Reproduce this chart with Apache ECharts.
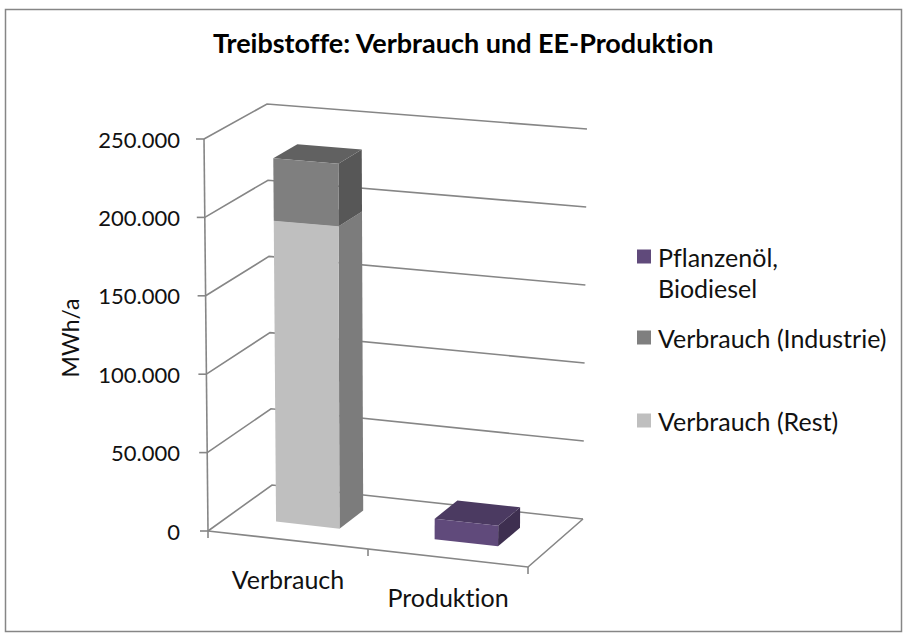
<!DOCTYPE html>
<html><head><meta charset="utf-8">
<script src="https://cdn.jsdelivr.net/npm/echarts/dist/echarts.min.js"></script>
<style>html,body{margin:0;padding:0;background:#fff}#c{width:906px;height:635px}
#c text{font-variant-ligatures:none;font-feature-settings:"liga" 0,"clig" 0;}</style>
</head><body><div id="c"></div>
<script>
// ---- data ----
const categories = ['Verbrauch', 'Produktion'];
const verbrauchRest = [193000, 0];
const verbrauchIndustrie = [40000, 0];
const pflanzenoel = [0, 13000];
const yTicks = [0, 50000, 100000, 150000, 200000, 250000];
const seriesNames = ['Pflanzenöl, Biodiesel', 'Verbrauch (Industrie)', 'Verbrauch (Rest)'];

// ---- layout / style ----
const FONT = 'Lato';
const TXT = '#111';
const FRONT = {lb:[208,531], rb:[528,567], lt:[204,139], rt:[533,166]};
const BACK  = {lb:[272,485], rb:[583,519], lt:[267,104], rt:[587,129]};
const W0 = 0.32, W1 = 0.71, BAR_FRAC = 0.4;
const LINE = {stroke:'#868686', lineWidth:1.6};
const FACE = {
  rest: {front:'#BFBFBF', side:'#7C7C7C', top:'#A6A6A6'},
  ind:  {front:'#7F7F7F', side:'#575757', top:'#616161'},
  pfl:  {front:'#604A7B', side:'#3E2F50', top:'#4B3A61'}
};

function bil(Q,u,v){
  return [0,1].map(k => (1-u)*(1-v)*Q.lb[k] + u*(1-v)*Q.rb[k] + (1-u)*v*Q.lt[k] + u*v*Q.rt[k]);
}
function proj(u,v,w){
  const f = bil(FRONT,u,v), b = bil(BACK,u,v);
  return [f[0]+(b[0]-f[0])*w, f[1]+(b[1]-f[1])*w];
}
function normU(cs,x){ return (x-cs.x)/cs.width; }
function normV(cs,y){ return (cs.y+cs.height-y)/cs.height; }
function line(points){ return {type:'polyline', shape:{points}, style:Object.assign({fill:null}, LINE)}; }
function poly(points, fill){ return {type:'polygon', shape:{points}, style:{fill, stroke:null}}; }

function frameRender(params, api){
  const cs = params.coordSys;
  const val = api.value(1);
  const v = normV(cs, api.coord([0, val])[1]);
  const a = proj(0,v,0), b = proj(0,v,1), c = proj(1,v,1);
  const children = [line([a,b,c]), line([[a[0]-8,a[1]], a])];
  if (val === 0) {
    children.push(line([proj(0,0,0), proj(1,0,0), proj(1,0,1)]));
    children.push(line([proj(0,0,0), proj(0,1,0)]));
  }
  return {type:'group', children};
}

function catRender(params, api){
  const cs = params.coordSys;
  const i = api.value(0);
  const p = api.coord([i, 0]);
  const half = api.size([1,0])[0]/2;
  const uc = normU(cs,p[0]), ul = normU(cs,p[0]-half), ur = normU(cs,p[0]+half);
  const children = [];
  const tl = proj(ul,0,0);
  children.push(line([tl,[tl[0],tl[1]+7]]));
  if (i === categories.length-1){ const tr = proj(ur,0,0); children.push(line([tr,[tr[0],tr[1]+7]])); }
  const lc = proj(uc,0,0);
  children.push({type:'text', x:lc[0], y:lc[1]+39,
    style:{text:categories[i], fill:TXT, fontSize:25, fontFamily:FONT, align:'center', verticalAlign:'middle'}});
  return {type:'group', children};
}

function barRender(col){
  return function(params, api){
    const val = api.value(1), base = api.value(2), i = api.value(0);
    if (!val) return;
    const cs = params.coordSys;
    const pb = api.coord([i, base]), pt = api.coord([i, base+val]);
    const bw = api.size([1,0])[0]*BAR_FRAC;
    const u0 = normU(cs,pb[0]-bw/2), u1 = normU(cs,pb[0]+bw/2);
    const v0 = normV(cs,pb[1]), v1 = normV(cs,pt[1]);
    return {type:'group', children:[
      poly([proj(u1,v0,W0),proj(u1,v0,W1),proj(u1,v1,W1),proj(u1,v1,W0)], col.side),
      poly([proj(u0,v1,W0),proj(u1,v1,W0),proj(u1,v1,W1),proj(u0,v1,W1)], col.top),
      poly([proj(u0,v0,W0),proj(u1,v0,W0),proj(u1,v1,W0),proj(u0,v1,W0)], col.front)
    ]};
  };
}

function legendCfg(name, top, text, lh){
  return {
    data:[name], left:637, top, orient:'vertical', padding:0, icon:'rect',
    itemWidth:14, itemHeight:14, selectedMode:false,
    formatter: () => text,
    textStyle:{fontFamily:FONT, fontSize:25, color:TXT, lineHeight:lh, padding:[0,0,0,2]}
  };
}

const chart = echarts.init(document.getElementById('c'), null, {renderer:'svg'});
chart.setOption({
  animation:false,
  title:{text:'Treibstoffe: Verbrauch und EE-Produktion', left:213, top:29, padding:0,
    textStyle:{fontFamily:FONT, fontWeight:'bold', fontSize:27, color:'#000'}},
  graphic:[{type:'rect', shape:{x:5.5, y:9.5, width:896, height:622}, style:{fill:null, stroke:'#868686', lineWidth:1.5}, silent:true}],
  legend:[
    legendCfg(seriesNames[0], 210, ' \nPflanzenöl,\nBiodiesel', 31),
    legendCfg(seriesNames[1], 323.5, 'Verbrauch (Industrie)', 28),
    legendCfg(seriesNames[2], 406.5, 'Verbrauch (Rest)', 28)
  ],
  grid:{left:205, top:139, width:326, height:392},
  xAxis:{type:'category', data:categories, show:false},
  yAxis:{type:'value', min:0, max:250000, interval:50000,
    axisLine:{show:false}, axisTick:{show:false}, splitLine:{show:false},
    axisLabel:{margin:25, fontFamily:FONT, fontSize:22, color:TXT,
      formatter: v => String(v).replace(/\B(?=(\d{3})+(?!\d))/g,'.')},
    name:'MWh/a', nameLocation:'middle', nameGap:124,
    nameTextStyle:{fontFamily:FONT, fontSize:23, color:TXT, padding:[0,6,0,0]}},
  series:[
    {type:'custom', silent:true, renderItem:frameRender, encode:{x:0,y:1},
      data: yTicks.map(v => [0, v])},
    {type:'custom', silent:true, renderItem:catRender, encode:{x:0,y:1},
      data: categories.map((c,i) => [i, 0])},
    {type:'custom', name:seriesNames[2], silent:true, itemStyle:{color:FACE.rest.front},
      renderItem:barRender(FACE.rest), encode:{x:0,y:1},
      data: categories.map((c,i) => [i, verbrauchRest[i], 0])},
    {type:'custom', name:seriesNames[1], silent:true, itemStyle:{color:FACE.ind.front},
      renderItem:barRender(FACE.ind), encode:{x:0,y:1},
      data: categories.map((c,i) => [i, verbrauchIndustrie[i], verbrauchRest[i]])},
    {type:'custom', name:seriesNames[0], silent:true, itemStyle:{color:FACE.pfl.front},
      renderItem:barRender(FACE.pfl), encode:{x:0,y:1},
      data: categories.map((c,i) => [i, pflanzenoel[i], 0])}
  ]
});
</script>
</body></html>
